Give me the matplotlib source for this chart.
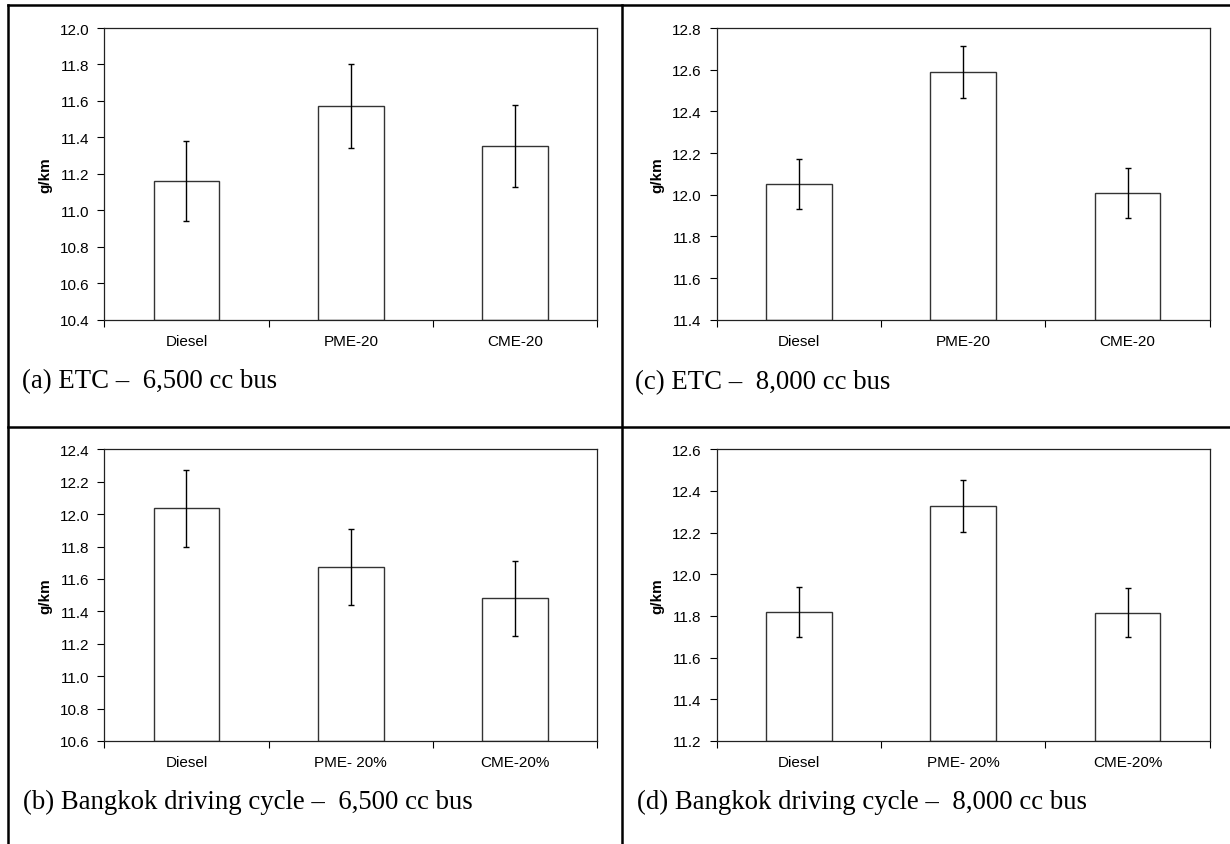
import numpy as np
import matplotlib
matplotlib.use('Agg')
import matplotlib.pyplot as plt
from matplotlib.lines import Line2D

plt.rcParams['font.family'] = 'Liberation Sans'

fuels_etc = ['Diesel', 'PME-20', 'CME-20']
fuels_bkk = ['Diesel', 'PME- 20%', 'CME-20%']

etc_6500 = [11.16, 11.57, 11.355]
etc_6500_err = [0.22, 0.23, 0.225]
etc_8000 = [12.05, 12.59, 12.01]
etc_8000_err = [0.12, 0.125, 0.12]
bkk_6500 = [12.035, 11.675, 11.48]
bkk_6500_err = [0.24, 0.235, 0.23]
bkk_8000 = [11.82, 12.33, 11.815]
bkk_8000_err = [0.12, 0.125, 0.118]

W, H = 1230, 845
fig = plt.figure(figsize=(W / 100, H / 100), dpi=100)


def px_axes(x0, y0, x1, y1):
    return fig.add_axes([x0 / W, 1 - y1 / H, (x1 - x0) / W, (y1 - y0) / H])


def draw_panel(ax, labels, values, errs, ylim, caption, cap_xy):
    x = np.arange(len(values))
    ax.bar(x, np.array(values) - ylim[0], bottom=ylim[0], width=0.4,
           color='white', edgecolor='#333333', linewidth=1.0, zorder=2)
    ax.errorbar(x, values, yerr=errs, fmt='none', ecolor='black',
                elinewidth=1.0, capsize=2, capthick=1.0, zorder=3)
    ax.set_xlim(-0.5, len(values) - 0.5)
    ax.set_ylim(ylim)
    yt = np.arange(ylim[0], ylim[1] + 0.01, 0.2)
    ax.set_yticks(yt)
    ax.set_yticklabels(['%.1f' % v for v in yt])
    # ticks at the category edges, labels at the centres
    ax.set_xticks(np.arange(len(values) + 1) - 0.5)
    ax.set_xticklabels([])
    ax.set_xticks(x, minor=True)
    ax.set_xticklabels(labels, minor=True)
    ax.tick_params(axis='x', which='major', direction='out', length=5, width=0.8)
    ax.tick_params(axis='x', which='minor', length=0, pad=10, labelsize=11)
    ax.tick_params(axis='y', direction='out', length=5, width=0.8, pad=6, labelsize=11)
    for s in ax.spines.values():
        s.set_linewidth(0.9)
        s.set_color('#222222')
    ax.set_ylabel('g/km', fontsize=11, fontweight='bold')
    ax.yaxis.set_label_coords(-0.106, 0.5)
    fig.text(cap_xy[0] / W, 1 - cap_xy[1] / H, caption, fontsize=19.3,
             family='Liberation Serif', ha='left', va='center')


ax_a = px_axes(104.3, 29, 597.3, 320.7)
draw_panel(ax_a, fuels_etc, etc_6500, etc_6500_err, (10.4, 12.0),
           '(a) ETC \u2013  6,500 cc bus', (21.7, 381.7))

ax_c = px_axes(716.7, 29, 1209.7, 320.7)
draw_panel(ax_c, fuels_etc, etc_8000, etc_8000_err, (11.4, 12.8),
           '(c) ETC \u2013  8,000 cc bus', (635, 382.5))

ax_b = px_axes(104.3, 450.3, 597.3, 742)
draw_panel(ax_b, fuels_bkk, bkk_6500, bkk_6500_err, (10.6, 12.4),
           '(b) Bangkok driving cycle \u2013  6,500 cc bus', (23, 802))

ax_d = px_axes(716.7, 450.3, 1209.7, 742)
draw_panel(ax_d, fuels_bkk, bkk_8000, bkk_8000_err, (11.2, 12.6),
           '(d) Bangkok driving cycle \u2013  8,000 cc bus', (636.7, 802))

# table grid around the panels
grid = [((8, 6), (W, 6)), ((8, 6), (8, H)), ((621.7, 6), (621.7, H)), ((8, 427.7), (W, 427.7))]
for (x0, y0), (x1, y1) in grid:
    fig.add_artist(Line2D([x0 / W, x1 / W], [1 - y0 / H, 1 - y1 / H],
                          color='black', linewidth=1.8, transform=fig.transFigure))

fig.savefig('out.png', dpi=100, facecolor='white')
